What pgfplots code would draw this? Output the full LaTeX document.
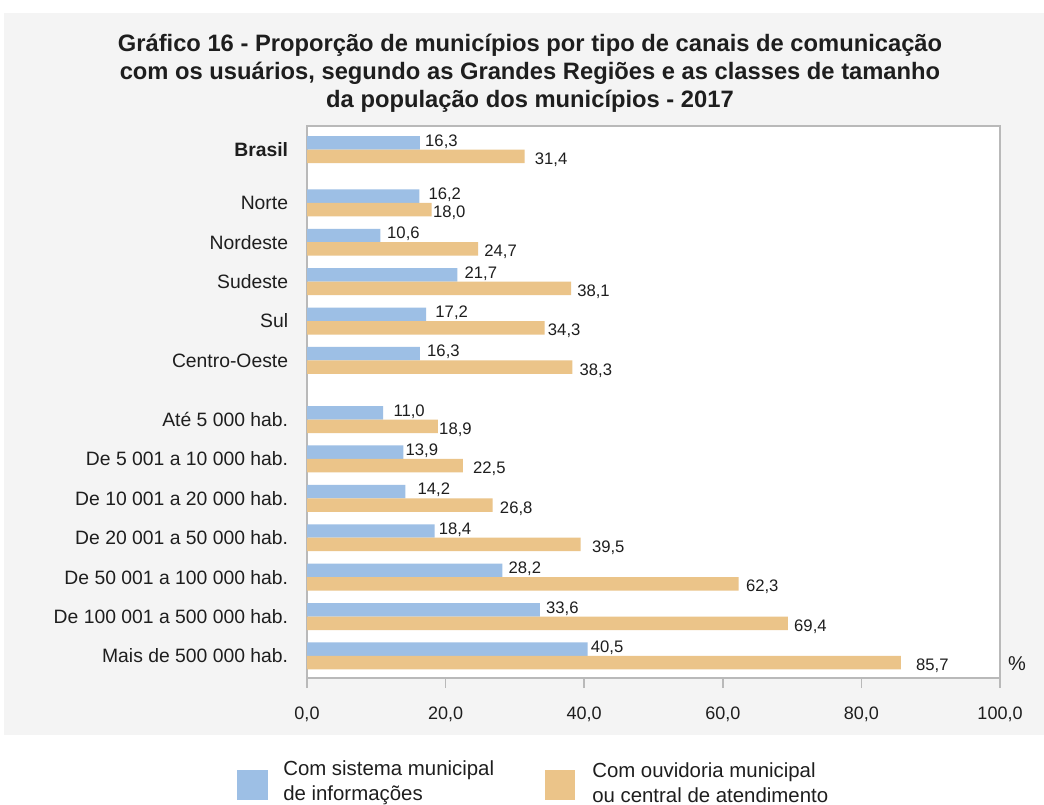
\documentclass[border=0pt]{standalone}
\usepackage{pgfplots}
\pgfplotsset{compat=1.18}
\usepackage{pgfplotstable}
\usepackage{fontspec}
\setmainfont{Liberation Sans}
\definecolor{cblue}{RGB}{157,191,229}
\definecolor{corange}{RGB}{235,196,137}
\definecolor{bggray}{RGB}{244,244,244}
\definecolor{framegray}{RGB}{185,185,185}
\definecolor{txt}{RGB}{30,30,30}

\pgfplotstableread{
y     val   lab   gap
12.85 16.3  16,3  5
11.5  16.2  16,2  9
10.5  10.6  10,6  6.5
9.5   21.7  21,7  7
8.5   17.2  17,2  9
7.5   16.3  16,3  7
6     11.0  11,0  10
5     13.9  13,9  2
4     14.2  14,2  12
3     18.4  18,4  4
2     28.2  28,2  6
1     33.6  33,6  6
0     40.5  40,5  3
}\bluedata

\pgfplotstableread{
y     val   lab   gap
12.85 31.4  31,4  10
11.5  18.0  18,0  1
10.5  24.7  24,7  6
9.5   38.1  38,1  6
8.5   34.3  34,3  3
7.5   38.3  38,3  7
6     18.9  18,9  1
5     22.5  22,5  10
4     26.8  26,8  7
3     39.5  39,5  11
2     62.3  62,3  7
1     69.4  69,4  6
0     85.7  85,7  15
}\orangedata

\begin{document}
\begin{tikzpicture}[x=0.75pt,y=-0.75pt]
\useasboundingbox (0,0) rectangle (1044,805);
\fill[bggray] (4,13) rectangle (1044,735);
\node[align=center, font=\fontsize{17.8}{21}\selectfont\bfseries, text=txt] at (530,73)
 {Gráfico 16 - Proporção de municípios por tipo de canais de comunicação\\
  com os usuários, segundo as Grandes Regiões e as classes de tamanho\\
  da população dos municípios - 2017};
\begin{axis}[
  at={(230.25pt,-508.5pt)}, anchor=south west,
  scale only axis, width=519.75pt, height=414pt,
  xmin=0, xmax=100, ymin=-0.56, ymax=13.45,
  axis background/.style={fill=white},
  axis line style={draw=framegray, line width=1.1pt},
  xtick={0,20,40,60,80,100},
  xtick pos=bottom, tick align=outside,
  major tick length=7.5pt,
  xtick style={draw=framegray, line width=1.1pt},
  xticklabel={\pgfmathprintnumber[fixed,fixed zerofill,precision=1,use comma,assume math mode=true]{\tick}},
  xticklabel style={font=\fontsize{13.5}{16}\selectfont, text=txt, anchor=north, inner sep=0pt, yshift=-14pt},
  ytick={0,1,2,3,4,5,6,7.5,8.5,9.5,10.5,11.5,12.85},
  yticklabels={Mais de 500 000 hab.,De 100 001 a 500 000 hab.,De 50 001 a 100 000 hab.,De 20 001 a 50 000 hab.,De 10 001 a 20 000 hab.,De 5 001 a 10 000 hab.,Até 5 000 hab.,Centro-Oeste,Sul,Sudeste,Nordeste,Norte,\textbf{Brasil}},
  ytick style={draw=none},
  yticklabel style={font=\fontsize{14.5}{17}\selectfont, text=txt, anchor=east, inner sep=0pt, xshift=-6.5pt},
  bar width=10.1pt,
  point meta=explicit symbolic,
  nodes near coords,
  visualization depends on={\thisrow{gap} \as \gap},
  every node near coord/.append style={font=\fontsize{12.5}{15}\selectfont, text=txt, anchor=west, inner sep=0pt, xshift=0.75pt*\gap},
]
\addplot[xbar, fill=cblue, draw=none, bar shift=5.05pt,
  every node near coord/.append style={yshift=6.2pt}]
  table[x=val, y=y, meta=lab] {\bluedata};
\addplot[xbar, fill=corange, draw=none, bar shift=-5.05pt,
  every node near coord/.append style={yshift=-7.5pt}]
  table[x=val, y=y, meta=lab] {\orangedata};
\end{axis}
\node[font=\fontsize{15}{18}\selectfont, text=txt] at (1017,664) {\%};
\fill[cblue] (237,770) rectangle (268,800);
\node[anchor=west, align=left, inner sep=0pt, font=\fontsize{15.3}{18.75}\selectfont, text=txt] at (283,783)
 {Com sistema municipal\\de informações};
\fill[corange] (545,770) rectangle (575,800);
\node[anchor=west, align=left, inner sep=0pt, font=\fontsize{15.3}{18.75}\selectfont, text=txt] at (592,783)
 {Com ouvidoria municipal\\ou central de atendimento};
\end{tikzpicture}
\end{document}
